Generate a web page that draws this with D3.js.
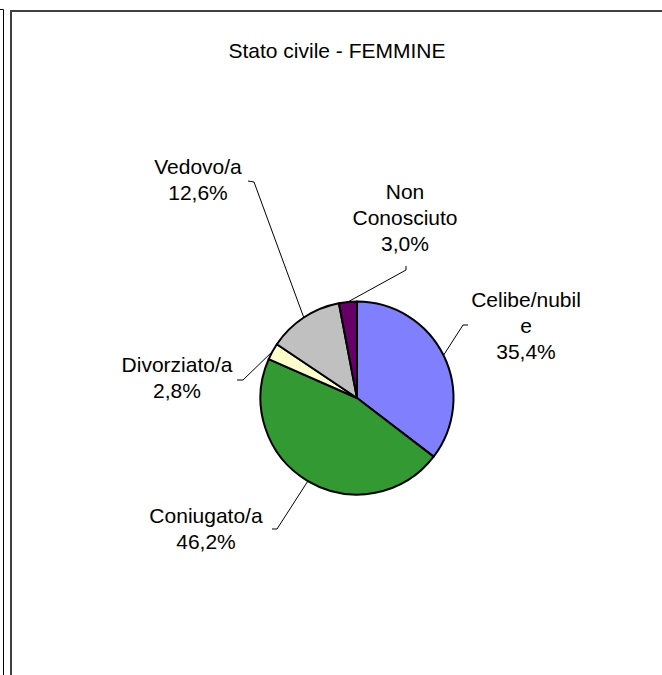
<!DOCTYPE html>
<html lang="it">
<head>
  <meta charset="utf-8" />
  <title>Stato civile - FEMMINE</title>
  <style>
    html, body { margin: 0; padding: 0; background: #fff; }
    svg { display: block; }
    text { font-family: "Liberation Sans", Arial, sans-serif; font-size: 21px; fill: #000; }
    .leader { fill: none; stroke: #000; stroke-width: 1; }
  </style>
</head>
<body>
<div id="chart"></div>

<script src="https://d3js.org/d3.v7.min.js"></script>
<script>
  // dati
  const categorie = ["Celibe/nubile", "Coniugato/a", "Divorziato/a", "Vedovo/a", "Non Conosciuto"];
  const valori = [35.4, 46.2, 2.8, 12.6, 3.0];
  const righeEtichetta = [["Celibe/nubil", "e"], ["Coniugato/a"], ["Divorziato/a"], ["Vedovo/a"], ["Non", "Conosciuto"]];
  const colori = ["#8080FF", "#339933", "#FFFFCC", "#C0C0C0", "#660066"];

  const W = 662, H = 675;
  const cx = 357, cy = 398, r = 96.5;

  // posizione delle etichette: centro testo, prima linea di base, gomito e fine del connettore
  const layoutEtichette = [
    { x: 526, y: 307, elbow: [463, 325], end: [468, 325] },
    { x: 206, y: 523, elbow: [277, 529], end: [272, 529] },
    { x: 177, y: 372, elbow: [243, 380], end: [237, 380] },
    { x: 198, y: 174, elbow: [254, 182], end: [248, 181] },
    { x: 405, y: 199, elbow: [406, 270], end: [406, 266] }
  ];

  const svg = d3.select("#chart").append("svg")
    .attr("width", W).attr("height", H);

  // bordi esterni
  svg.append("path")
    .attr("d", `M0,9.5H3.5V${H}`)
    .attr("fill", "none").attr("stroke", "#000").attr("stroke-width", 1);
  svg.append("path")
    .attr("d", `M11,${H}V11H${W}`)
    .attr("fill", "none").attr("stroke", "#404040").attr("stroke-width", 2);

  svg.append("text")
    .attr("x", 337).attr("y", 58)
    .attr("text-anchor", "middle")
    .text("Stato civile - FEMMINE");

  const dati = categorie.map((c, i) => ({ nome: c, valore: valori[i], i }));

  const pie = d3.pie().sort(null).value(d => d.valore);
  const arc = d3.arc().innerRadius(0).outerRadius(r);
  const archi = pie(dati);

  const g = svg.append("g").attr("transform", `translate(${cx},${cy})`);

  g.selectAll("path")
    .data(archi)
    .join("path")
    .attr("d", arc)
    .attr("fill", d => colori[d.data.i])
    .attr("stroke", "#000")
    .attr("stroke-width", 2)
    .attr("stroke-linejoin", "round");

  const fmt = v => d3.format(".1f")(v).replace(".", ",") + "%";

  // connettori
  archi.forEach(a => {
    const L = layoutEtichette[a.data.i];
    const mid = (a.startAngle + a.endAngle) / 2;
    const sx = cx + r * Math.sin(mid), sy = cy - r * Math.cos(mid);
    svg.append("path")
      .attr("class", "leader")
      .attr("d", `M${sx},${sy}L${L.elbow[0]},${L.elbow[1]}L${L.end[0]},${L.end[1]}`);
  });

  // etichette
  archi.forEach(a => {
    const L = layoutEtichette[a.data.i];
    const righe = righeEtichetta[a.data.i].concat([fmt(a.data.valore)]);
    const t = svg.append("text")
      .attr("text-anchor", "middle");
    righe.forEach((riga, k) => {
      t.append("tspan")
        .attr("x", L.x)
        .attr("y", L.y + k * 26)
        .text(riga);
    });
  });
</script>
</body>
</html>
